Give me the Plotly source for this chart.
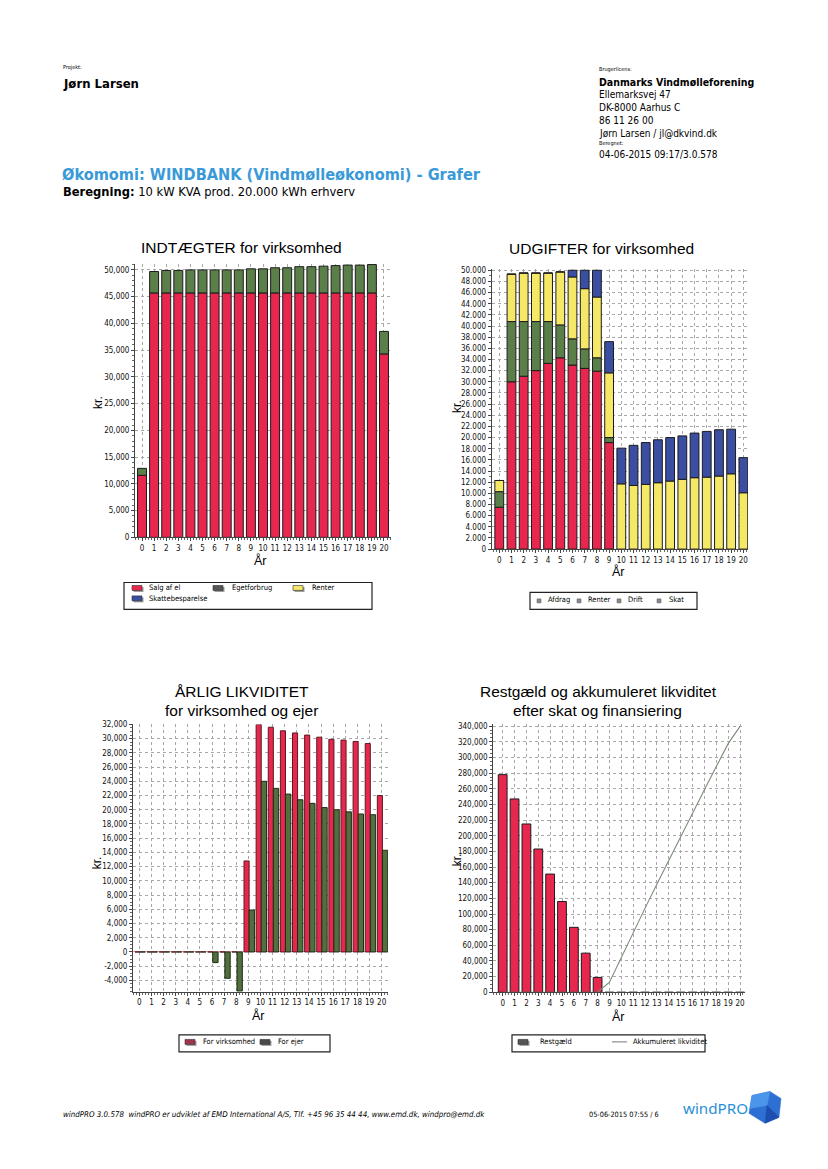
import plotly.graph_objects as go

# page is 828x1169; the browser adds an 8px body margin, so the figure is drawn
# slightly smaller and all page coordinates are shifted by that margin.
OFF = 8
FW, FH = 812, 1153


def px(x):
    return (x - OFF) / FW


def py(y):
    return 1 - (y - OFF) / FH


# ---------------- data ----------------
years = [0, 1, 2, 3, 4, 5, 6, 7, 8, 9, 10, 11, 12, 13, 14, 15, 16, 17, 18, 19, 20]
year_labels = ["0", "1", "2", "3", "4", "5", "6", "7", "8", "9", "10",
               "11", "12", "13", "14", "15", "16", "17", "18", "19", "20"]

# Chart 1: INDTÆGTER for virksomhed
indt_salg_af_el = [11600, 45700, 45700, 45700, 45700, 45700, 45700, 45700, 45700, 45700, 45700,
                   45700, 45700, 45700, 45700, 45700, 45700, 45700, 45700, 45700, 34300]
indt_egetforbrug = [1300, 4000, 4200, 4200, 4300, 4300, 4300, 4300, 4300, 4500, 4500,
                    4700, 4700, 4900, 4900, 5000, 5100, 5200, 5200, 5300, 4200]
c1_yticks = [0, 5000, 10000, 15000, 20000, 25000, 30000, 35000, 40000, 45000, 50000]
c1_legend = ["Salg af el", "Egetforbrug", "Renter", "Skattebesparelse"]

# Chart 2: UDGIFTER for virksomhed
udg_afdrag = [7500, 30000, 31000, 32000, 33300, 34300, 33000, 32400, 31900, 19100, 0,
              0, 0, 0, 0, 0, 0, 0, 0, 0, 0]
udg_renter = [2800, 10800, 9800, 8800, 7500, 5900, 4700, 3500, 2400, 900, 0,
              0, 0, 0, 0, 0, 0, 0, 0, 0, 0]
udg_drift = [2000, 8500, 8700, 8700, 8700, 9500, 11100, 10800, 10900, 11600, 11700,
             11400, 11600, 11900, 12200, 12500, 12800, 12900, 13100, 13500, 10100]
udg_skat = [0, 0, 0, 0, 0, 0, 1200, 3300, 4800, 5600, 6400,
            7200, 7500, 7700, 7800, 7800, 8000, 8200, 8300, 8000, 6300]
c2_yticks = [0, 2000, 4000, 6000, 8000, 10000, 12000, 14000, 16000, 18000, 20000, 22000, 24000,
             26000, 28000, 30000, 32000, 34000, 36000, 38000, 40000, 42000, 44000, 46000, 48000, 50000]
c2_legend = ["Afdrag", "Renter", "Drift", "Skat"]

# Chart 3: ÅRLIG LIKVIDITET for virksomhed og ejer
lik_virksomhed = [0, 0, 0, 0, 0, 0, 0, 0, 0, 12800, 32000,
                  31600, 31100, 30800, 30500, 30200, 29900, 29800, 29600, 29300, 22000]
lik_ejer = [0, 0, 0, 0, 0, 0, -1500, -3700, -5500, 5900, 24000,
            23000, 22200, 21400, 20900, 20300, 20000, 19700, 19400, 19300, 14300]
c3_yticks = [-4000, -2000, 0, 2000, 4000, 6000, 8000, 10000, 12000, 14000, 16000, 18000,
             20000, 22000, 24000, 26000, 28000, 30000, 32000]
c3_legend = ["For virksomhed", "For ejer"]

# Chart 4: Restgæld og akkumuleret likviditet
restgaeld = [278000, 247000, 215000, 183000, 151000, 116000, 83000, 50000, 19000, 0, 0,
             0, 0, 0, 0, 0, 0, 0, 0, 0, 0]
akk_likviditet = [0, 0, 0, 0, 0, 0, 0, 0, 0, 12800, 44800,
                  76400, 107500, 138300, 168800, 199000, 228900, 258700, 288300, 317600, 339600]
c4_yticks = [0, 20000, 40000, 60000, 80000, 100000, 120000, 140000, 160000, 180000, 200000,
             220000, 240000, 260000, 280000, 300000, 320000, 340000]
c4_legend = ["Restgæld", "Akkumuleret likviditet"]

# ---------------- styles ----------------
RED = "#E8274F"
GREEN = "#5B7F48"
YELLOW = "#F5E866"
BLUE = "#3A4EA2"
OUTLINE = "#1c1c1c"
LINEC = "#7b8c78"

HFONT = "DejaVu Sans Condensed, DejaVu Sans, sans-serif"
TFONT = "Liberation Sans, Arial, sans-serif"
TICKFONT = "Liberation Sans Narrow, DejaVu Sans Condensed, sans-serif"

fig = go.Figure()

bar_line = dict(color=OUTLINE, width=1)

# Chart 1 traces
fig.add_trace(go.Bar(x=years, y=indt_salg_af_el, name=c1_legend[0], marker=dict(color=RED, line=bar_line),
                     width=0.74, xaxis="x", yaxis="y"))
fig.add_trace(go.Bar(x=years, y=indt_egetforbrug, name=c1_legend[1], marker=dict(color=GREEN, line=bar_line),
                     width=0.74, xaxis="x", yaxis="y"))

# Chart 2 traces
for vals, col, nm in [(udg_afdrag, RED, c2_legend[0]), (udg_renter, GREEN, c2_legend[1]),
                      (udg_drift, YELLOW, c2_legend[2]), (udg_skat, BLUE, c2_legend[3])]:
    fig.add_trace(go.Bar(x=years, y=vals, name=nm, marker=dict(color=col, line=bar_line),
                         width=0.72, xaxis="x2", yaxis="y2"))

# Chart 3 traces
fig.add_trace(go.Bar(x=years, y=lik_virksomhed, name=c3_legend[0],
                     marker=dict(color=RED, line=dict(color="#5a1a22", width=1)),
                     width=0.42, offset=-0.36, xaxis="x3", yaxis="y3"))
fig.add_trace(go.Bar(x=years, y=lik_ejer, name=c3_legend[1],
                     marker=dict(color="#52703d", line=dict(color="#1e2a18", width=1)),
                     width=0.44, offset=0.06, xaxis="x3", yaxis="y5"))

# Chart 4 traces
fig.add_trace(go.Bar(x=years, y=restgaeld, name=c4_legend[0], marker=dict(color=RED, line=bar_line),
                     width=0.74, xaxis="x4", yaxis="y4"))
fig.add_trace(go.Scatter(x=years, y=akk_likviditet, name=c4_legend[1], mode="lines",
                         line=dict(color=LINEC, width=1.1), xaxis="x4", yaxis="y4"))

axis_common = dict(showline=True, linecolor="#444", linewidth=1, ticks="outside", ticklen=3,
                   tickcolor="#444", tickfont=dict(family=TICKFONT, size=8, color="#111"),
                   showgrid=True, gridcolor="#a8a8a8", griddash="3px,3px", gridwidth=1,
                   zeroline=False, fixedrange=True)


def xax(dom, rng, anchor):
    d = dict(axis_common)
    d.update(domain=[px(dom[0]), px(dom[1])], range=rng, anchor=anchor,
             tickmode="array", tickvals=years, ticktext=year_labels,
             minor=dict(ticks="outside", ticklen=2, tickcolor="#666", dtick=0.25, showgrid=False))
    return d


def yax(dom, rng, anchor, tickvals, ticktext, minor_dtick):
    d = dict(axis_common)
    d.update(domain=[py(dom[0]), py(dom[1])], range=rng, anchor=anchor,
             tickmode="array", tickvals=tickvals, ticktext=ticktext,
             minor=dict(ticks="outside", ticklen=2, tickcolor="#666", dtick=minor_dtick, showgrid=False))
    return d


def fmt_comma(v):
    return f"{v:,}"


def fmt_dot(v):
    return f"{v:,}".replace(",", ".")


fig.update_layout(
    width=FW, height=FH, margin=dict(l=0, r=0, t=0, b=0),
    paper_bgcolor="white", plot_bgcolor="white",
    barmode="relative", showlegend=False,
    font=dict(family=TFONT, size=9, color="#111"),
    xaxis=xax((135, 391), [-0.58, 20.58], "y"),
    yaxis=yax((537.5, 262), [0, 51100], "x", c1_yticks, [fmt_comma(v) for v in c1_yticks], 1000),
    xaxis2=xax((491.7, 748), [-0.62, 20.38], "y2"),
    yaxis2=yax((549.3, 267), [0, 50230], "x2", c2_yticks, [fmt_dot(v) for v in c2_yticks], 1000),
    xaxis3=xax((133, 388), [-0.52, 20.52], "y3"),
    yaxis3=yax((995.5, 726), [-5600, 32000], "x3", c3_yticks, [fmt_comma(v) for v in c3_yticks], 500),
    xaxis4=xax((493.3, 745), [-0.79, 20.42], "y4"),
    yaxis4=yax((996, 726), [0, 342200], "x4", c4_yticks, [fmt_comma(v) for v in c4_yticks], 5000),
    yaxis5=dict(overlaying="y3", range=[-5600, 32000], visible=False, fixedrange=True, anchor="x3"),
)
fig.layout.yaxis3.update(zeroline=True, zerolinecolor="#e7a3ad", zerolinewidth=1)

annotations = []
shapes = []


def txt(x, y, s, size, color="#000", family=HFONT, xanchor="left", yanchor="middle", textangle=0):
    annotations.append(dict(x=px(x), y=py(y), xref="paper", yref="paper", text=s, showarrow=False,
                            xanchor=xanchor, yanchor=yanchor, textangle=textangle,
                            font=dict(size=size, color=color, family=family)))


# header
txt(61, 64, "Projekt:", 5.5)
txt(61, 80.5, "<b>Jørn Larsen</b>", 13)
txt(597, 66, "Brugerlicens:", 5.5)
txt(597, 78.5, "<b>Danmarks Vindmølleforening</b>", 10.5)
txt(597, 91, "Ellemarksvej 47", 10)
txt(597, 104, "DK-8000 Aarhus C", 10)
txt(597, 117, "86 11 26 00", 10)
txt(597, 130.5, "Jørn Larsen / jl@dkvind.dk", 10)
txt(597, 141, "Beregnet:", 5.5)
txt(597, 152, "04-06-2015 09:17/3.0.578", 10)
txt(60, 171.5, "<b>Økomomi: WINDBANK (Vindmølleøkonomi) - Grafer</b>", 16.2, color="#3a9ad8")
txt(61, 189, "<b>Beregning:</b> 10 kW KVA prod. 20.000 kWh erhverv", 12.8)

# chart titles
txt(242, 245.5, "INDTÆGTER for virksomhed", 15.5, family=TFONT, xanchor="center")
txt(601, 246.5, "UDGIFTER for virksomhed", 15.5, family=TFONT, xanchor="center")
txt(242, 693, "ÅRLIG LIKVIDITET", 15.5, family=TFONT, xanchor="center")
txt(241, 711.5, "for virksomhed og ejer", 15.5, family=TFONT, xanchor="center")
txt(598, 693, "Restgæld og akkumuleret likviditet", 15.5, family=TFONT, xanchor="center")
txt(597, 711.5, "efter skat og finansiering", 15.5, family=TFONT, xanchor="center")

# axis titles
for (x, y) in [(98, 402), (457, 406), (97, 866), (457, 863)]:
    txt(x, y, "kr.", 12, family=TFONT, xanchor="center", textangle=-90)
for (x, y) in [(261, 561), (618, 571.5), (258, 1019), (618, 1020)]:
    txt(x, y, "År", 12.5, family=TFONT, xanchor="center")


# legends (drawn)
def box(x0, y0, x1, y1, color="#222", fill=None, width=1):
    shapes.append(dict(type="rect", xref="paper", yref="paper", x0=px(x0), x1=px(x1), y0=py(y1), y1=py(y0),
                       line=dict(color=color, width=width), fillcolor=fill if fill else "rgba(0,0,0,0)"))


def swatch(x, y, col):
    box(x + 1.5, y - 1.5, x + 11.5, y + 3.5, color="#999", fill="#9a9a9a", width=0)
    box(x, y - 3, x + 10, y + 2, color="#333", fill=col, width=0.6)


LFONT = HFONT
box(124, 583, 372, 610, width=1.2)
swatch(132, 589, RED)
txt(147, 588.5, c1_legend[0], 7.5, family=LFONT)
swatch(213, 589, "#555")
txt(230, 588.5, c1_legend[1], 7.5, family=LFONT)
swatch(293, 589, YELLOW)
txt(310, 588.5, c1_legend[2], 7.5, family=LFONT)
swatch(132, 599.5, BLUE)
txt(147, 599.5, c1_legend[3], 7.5, family=LFONT)

box(530, 593, 697, 610, width=1.2)
for (sx, tx), nm in zip([(537, 546), (577, 586), (617, 626), (657, 667)], c2_legend):
    box(sx, 599.5, sx + 4, 603.5, color="#555", fill="#8a8a8a", width=0.5)
    txt(tx, 600.5, nm, 7.5, family=LFONT)

box(179, 1039, 330, 1056, width=1.2)
swatch(185, 1046.5, "#a0344a")
txt(201, 1046, c3_legend[0], 7.5, family=LFONT)
swatch(260, 1046.5, "#4a4a4a")
txt(276, 1046, c3_legend[1], 7.5, family=LFONT)

box(512, 1039, 705, 1056, width=1.2)
swatch(518, 1046.5, "#555")
txt(538, 1046, c4_legend[0], 7.5, family=LFONT)
shapes.append(dict(type="line", xref="paper", yref="paper", x0=px(612), x1=px(627), y0=py(1046), y1=py(1046),
                   line=dict(color="#777", width=1)))
txt(631, 1046, c4_legend[1], 7.5, family=LFONT)

# footer
txt(61, 1119.5, "<i>windPRO 3.0.578  windPRO er udviklet af EMD International A/S, Tlf. +45 96 35 44 44, "
                "www.emd.dk, windpro@emd.dk</i>", 7.9)
txt(587, 1119.5, "05-06-2015 07:55 / 6", 7.3)
txt(681, 1113, "windPRO", 15.2, color="#2a8fd8", family="Noto Sans, Open Sans, sans-serif")


def poly(points, fill):
    d = "M " + " L ".join(f"{px(a):.5f},{py(b):.5f}" for a, b in points) + " Z"
    shapes.append(dict(type="path", xref="paper", yref="paper", path=d, fillcolor=fill,
                       line=dict(color=fill, width=0.5)))


poly([(752, 1100), (770, 1096), (781, 1103), (779, 1122), (765, 1128), (749, 1118)], "#2d6fd3")
poly([(752, 1100), (770, 1096), (767, 1110), (750, 1113)], "#4b95ea")
poly([(767, 1110), (779, 1122), (765, 1128)], "#1f4fae")

fig.update_layout(annotations=annotations, shapes=shapes)

fig.write_html("out.html")
